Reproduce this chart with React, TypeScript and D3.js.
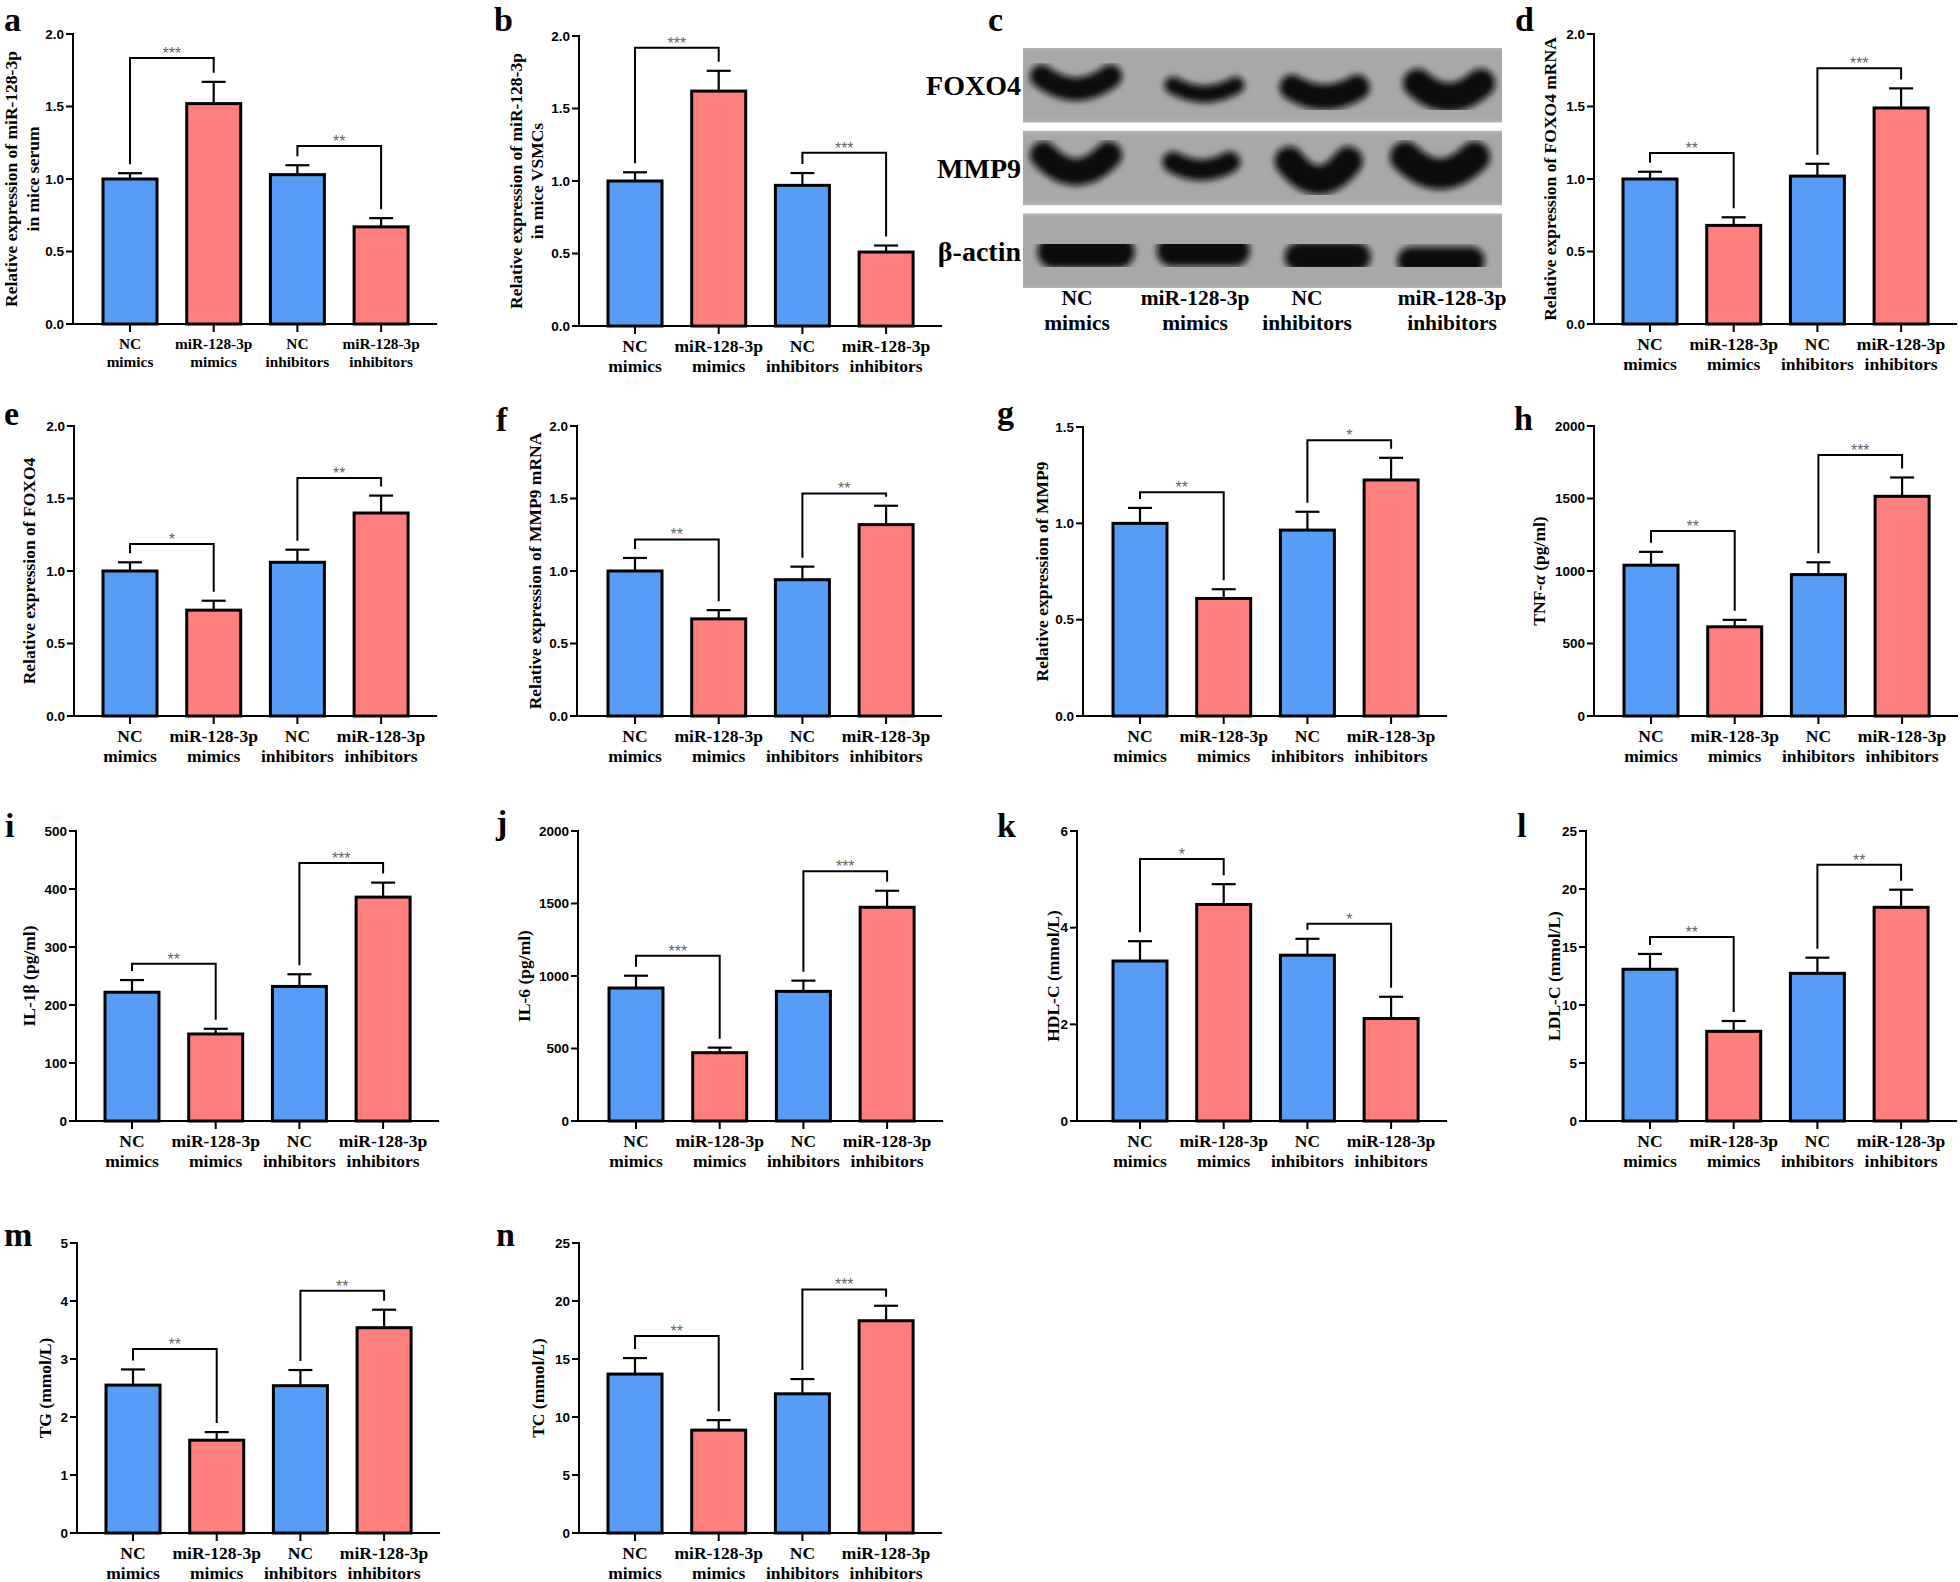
import React from "react";
import * as d3 from "d3";

// ---------- shared categories & styles ----------
const groupLines: string[][] = [
  ["NC", "mimics"],
  ["miR-128-3p", "mimics"],
  ["NC", "inhibitors"],
  ["miR-128-3p", "inhibitors"],
];
const barColors = ["#559DF7", "#FF7F7F", "#559DF7", "#FF7F7F"];

// ---------- data (mean, SEM) ----------
const meanA = [1.0, 1.52, 1.03, 0.67];
const semA = [0.04, 0.15, 0.065, 0.06];
const meanB = [1.0, 1.62, 0.97, 0.51];
const semB = [0.06, 0.14, 0.085, 0.045];
const meanD = [1.0, 0.68, 1.02, 1.49];
const semD = [0.05, 0.056, 0.085, 0.135];
const meanE = [1.0, 0.73, 1.06, 1.4];
const semE = [0.06, 0.065, 0.087, 0.12];
const meanF = [1.0, 0.67, 0.94, 1.32];
const semF = [0.09, 0.06, 0.09, 0.13];
const meanG = [1.0, 0.61, 0.965, 1.225];
const semG = [0.08, 0.048, 0.095, 0.115];
const meanH = [1040, 615, 975, 1515];
const semH = [92, 48, 85, 130];
const meanI = [222, 150, 232, 386];
const semI = [21, 9, 21, 25];
const meanJ = [917, 471, 894, 1474];
const semJ = [85, 35, 74, 114];
const meanK = [3.31, 4.48, 3.43, 2.12];
const semK = [0.41, 0.42, 0.34, 0.45];
const meanL = [13.08, 7.73, 12.73, 18.42];
const semL = [1.32, 0.89, 1.35, 1.52];
const meanM = [2.55, 1.6, 2.54, 3.54];
const semM = [0.27, 0.14, 0.27, 0.31];
const meanN = [13.7, 8.87, 12.0, 18.3];
const semN = [1.38, 0.86, 1.27, 1.29];

// ---------- significance brackets: [i, j, level, label] ----------
type Sig = [number, number, number, string];
const sigA: Sig[] = [[0, 1, 1.834, "***"], [2, 3, 1.228, "**"]];
const sigB: Sig[] = [[0, 1, 1.919, "***"], [2, 3, 1.195, "***"]];
const sigD: Sig[] = [[0, 1, 1.18, "**"], [2, 3, 1.763, "***"]];
const sigE: Sig[] = [[0, 1, 1.186, "*"], [2, 3, 1.641, "**"]];
const sigF: Sig[] = [[0, 1, 1.218, "**"], [2, 3, 1.535, "**"]];
const sigG: Sig[] = [[0, 1, 1.161, "**"], [2, 3, 1.431, "*"]];
const sigH: Sig[] = [[0, 1, 1276, "**"], [2, 3, 1800, "***"]];
const sigI: Sig[] = [[0, 1, 271, "**"], [2, 3, 445, "***"]];
const sigJ: Sig[] = [[0, 1, 1140, "***"], [2, 3, 1723, "***"]];
const sigK: Sig[] = [[0, 1, 5.42, "*"], [2, 3, 4.08, "*"]];
const sigL: Sig[] = [[0, 1, 15.86, "**"], [2, 3, 22.1, "**"]];
const sigM: Sig[] = [[0, 1, 3.172, "**"], [2, 3, 4.178, "**"]];
const sigN: Sig[] = [[0, 1, 16.98, "**"], [2, 3, 21.0, "***"]];

// ---------- tick values ----------
const ticks2 = [0, 0.5, 1.0, 1.5, 2.0];
const ticks15 = [0, 0.5, 1.0, 1.5];
const ticks2000 = [0, 500, 1000, 1500, 2000];
const ticks500 = [0, 100, 200, 300, 400, 500];
const ticks6 = [0, 2, 4, 6];
const ticks25 = [0, 5, 10, 15, 20, 25];
const ticks5 = [0, 1, 2, 3, 4, 5];

// ---------- western blot ----------
const blotProteins = ["FOXO4", "MMP9", "β-actin"];
const blotBandWidth = [
  [92, 80, 90, 92],
  [92, 78, 88, 100],
  [97, 93, 86, 87],
];
const blotBandThick = [
  [23, 17, 25, 29],
  [27, 21, 29, 31],
  [33, 31, 29, 28],
];
const blotBandSag = [
  [13, 9, 10, 14],
  [17, 8, 19, 17],
  [0, 0, 0, 0],
];
const blotBandShift = [
  [-2, 4, 2, 4],
  [-2, 1, -4, -5],
  [8, 3, 5, -4],
];
const blotBandDy = [
  [-9, 0, 2, -2],
  [-13, -6, -7, -11],
  [1, 0, 6, 10],
];

const SERIF = "'Liberation Serif', 'Times New Roman', serif";
const SANS = "'Liberation Sans', Arial, sans-serif";

type PanelSpec = {
  letter: string;
  mean: number[];
  sem: number[];
  sig: Sig[];
  ticks: number[];
  fmt: string;
  title: React.ReactNode[];
  ax: number;
  top: number;
  bot: number;
  c0: number;
  titleOff: number[];
  letterX: number;
  letterY: number;
  labelSize: number;
  labelDy: number[];
};

const STEP = 83.7;

function Panel({ p }: { p: PanelSpec }) {
  const y = d3.scaleLinear().domain([0, p.ticks[p.ticks.length - 1]]).range([p.bot, p.top]);
  const x = d3
    .scalePoint<number>()
    .domain([0, 1, 2, 3])
    .range([p.c0, p.c0 + 3 * STEP]);
  const fmt = d3.format(p.fmt);
  const bw = 54;
  const cap = 12;
  const xEnd = (x(3) as number) + 56;
  const midY = (p.top + p.bot) / 2;
  return (
    <g>
      <text x={p.letterX} y={p.letterY} fontFamily={SERIF} fontWeight="bold" fontSize={34}>
        {p.letter}
      </text>
      {/* y axis title */}
      {p.title.map((t, k) => (
        <text
          key={k}
          transform={`translate(${p.ax + p.titleOff[k]},${midY}) rotate(-90)`}
          textAnchor="middle"
          dominantBaseline="central"
          fontFamily={SERIF}
          fontWeight="bold"
          fontSize={17.5}
        >
          {t}
        </text>
      ))}
      {/* bars */}
      {p.mean.map((m, i) => (
        <rect
          key={"b" + i}
          x={(x(i) as number) - bw / 2}
          y={y(m)}
          width={bw}
          height={p.bot - y(m)}
          fill={barColors[i]}
          stroke="#000"
          strokeWidth={3}
        />
      ))}
      {/* error bars */}
      {p.mean.map((m, i) => {
        const cx = x(i) as number;
        const yt = y(m + p.sem[i]);
        return (
          <g key={"e" + i} stroke="#000" strokeWidth={2.2}>
            <line x1={cx} x2={cx} y1={y(m) - 1} y2={yt} />
            <line x1={cx - cap} x2={cx + cap} y1={yt} y2={yt} />
          </g>
        );
      })}
      {/* axes */}
      <line x1={p.ax} x2={p.ax} y1={p.top - 1} y2={p.bot} stroke="#000" strokeWidth={2} />
      <line x1={p.ax - 7} x2={xEnd} y1={p.bot} y2={p.bot} stroke="#000" strokeWidth={2} />
      {p.ticks.map((t) => (
        <g key={"t" + t}>
          <line x1={p.ax - 7} x2={p.ax} y1={y(t)} y2={y(t)} stroke="#000" strokeWidth={2} />
          <text
            x={p.ax - 9}
            y={y(t)}
            textAnchor="end"
            dominantBaseline="central"
            fontFamily={SANS}
            fontWeight="bold"
            fontSize={13.5}
          >
            {fmt(t)}
          </text>
        </g>
      ))}
      {groupLines.map((lines, i) => {
        const cx = x(i) as number;
        return (
          <g key={"x" + i}>
            <line x1={cx} x2={cx} y1={p.bot} y2={p.bot + 8} stroke="#000" strokeWidth={2} />
            {lines.map((s, k) => (
              <text
                key={k}
                x={cx}
                y={p.bot + p.labelDy[k]}
                textAnchor="middle"
                fontFamily={SERIF}
                fontWeight="bold"
                fontSize={p.labelSize}
              >
                {s}
              </text>
            ))}
          </g>
        );
      })}
      {/* significance */}
      {p.sig.map(([i, j, lvl, lab], k) => {
        const x1 = x(i) as number;
        const x2 = x(j) as number;
        const yb = y(lvl);
        const y1 = y(p.mean[i] + p.sem[i]) - 9;
        const y2 = y(p.mean[j] + p.sem[j]) - 9;
        return (
          <g key={"s" + k}>
            <path
              d={`M${x1},${y1}V${yb}H${x2}V${y2}`}
              fill="none"
              stroke="#000"
              strokeWidth={2}
            />
            <text
              x={(x1 + x2) / 2}
              y={yb + 1}
              textAnchor="middle"
              fontFamily={SANS}
              fontSize={16}
              fill="#666"
            >
              {lab}
            </text>
          </g>
        );
      })}
    </g>
  );
}

const L1 = [26, 46];
const panels: PanelSpec[] = [
  { letter: "a", mean: meanA, sem: semA, sig: sigA, ticks: ticks2, fmt: ".1f",
    title: ["Relative expression of miR-128-3p", "in mice serum"],
    ax: 73, top: 34, bot: 324, c0: 130, titleOff: [-62, -40], letterX: 4, letterY: 31, labelSize: 15.3, labelDy: [25, 43] },
  { letter: "b", mean: meanB, sem: semB, sig: sigB, ticks: ticks2, fmt: ".1f",
    title: ["Relative expression of miR-128-3p", "in mice VSMCs"],
    ax: 579, top: 36, bot: 326, c0: 635, titleOff: [-63, -42], letterX: 494, letterY: 31, labelSize: 17.5, labelDy: L1 },
  { letter: "d", mean: meanD, sem: semD, sig: sigD, ticks: ticks2, fmt: ".1f",
    title: ["Relative expression of FOXO4 mRNA"],
    ax: 1594, top: 34, bot: 324, c0: 1650, titleOff: [-44], letterX: 1515, letterY: 31, labelSize: 17.5, labelDy: L1 },
  { letter: "e", mean: meanE, sem: semE, sig: sigE, ticks: ticks2, fmt: ".1f",
    title: ["Relative expression of FOXO4"],
    ax: 74, top: 426, bot: 716, c0: 130, titleOff: [-45], letterX: 4, letterY: 425, labelSize: 17.5, labelDy: L1 },
  { letter: "f", mean: meanF, sem: semF, sig: sigF, ticks: ticks2, fmt: ".1f",
    title: ["Relative expression of MMP9 mRNA"],
    ax: 577, top: 426, bot: 716, c0: 635, titleOff: [-42], letterX: 496, letterY: 431, labelSize: 17.5, labelDy: L1 },
  { letter: "g", mean: meanG, sem: semG, sig: sigG, ticks: ticks15, fmt: ".1f",
    title: ["Relative expression of MMP9"],
    ax: 1083, top: 427, bot: 716, c0: 1140, titleOff: [-41], letterX: 997, letterY: 424, labelSize: 17.5, labelDy: L1 },
  { letter: "h", mean: meanH, sem: semH, sig: sigH, ticks: ticks2000, fmt: "d",
    title: [<tspan key="t">TNF-<tspan fontStyle="italic">α</tspan> (pg/ml)</tspan>],
    ax: 1594, top: 426, bot: 716, c0: 1651, titleOff: [-55], letterX: 1514, letterY: 430, labelSize: 17.5, labelDy: L1 },
  { letter: "i", mean: meanI, sem: semI, sig: sigI, ticks: ticks500, fmt: "d",
    title: ["IL-1β (pg/ml)"],
    ax: 76, top: 831, bot: 1121, c0: 132, titleOff: [-47], letterX: 5, letterY: 837, labelSize: 17.5, labelDy: L1 },
  { letter: "j", mean: meanJ, sem: semJ, sig: sigJ, ticks: ticks2000, fmt: "d",
    title: ["IL-6 (pg/ml)"],
    ax: 578, top: 831, bot: 1121, c0: 636, titleOff: [-54], letterX: 496, letterY: 834, labelSize: 17.5, labelDy: L1 },
  { letter: "k", mean: meanK, sem: semK, sig: sigK, ticks: ticks6, fmt: "d",
    title: ["HDL-C (mmol/L)"],
    ax: 1077, top: 831, bot: 1121, c0: 1140, titleOff: [-24], letterX: 997, letterY: 837, labelSize: 17.5, labelDy: L1 },
  { letter: "l", mean: meanL, sem: semL, sig: sigL, ticks: ticks25, fmt: "d",
    title: ["LDL-C (mmol/L)"],
    ax: 1586, top: 831, bot: 1121, c0: 1650, titleOff: [-32], letterX: 1517, letterY: 837, labelSize: 17.5, labelDy: L1 },
  { letter: "m", mean: meanM, sem: semM, sig: sigM, ticks: ticks5, fmt: "d",
    title: ["TG (mmol/L)"],
    ax: 77, top: 1243, bot: 1533, c0: 133, titleOff: [-32], letterX: 4, letterY: 1246, labelSize: 17.5, labelDy: L1 },
  { letter: "n", mean: meanN, sem: semN, sig: sigN, ticks: ticks25, fmt: "d",
    title: ["TC (mmol/L)"],
    ax: 579, top: 1243, bot: 1533, c0: 635, titleOff: [-41], letterX: 496, letterY: 1246, labelSize: 17.5, labelDy: L1 },
];

function Blot() {
  const lane = d3.scalePoint<number>().domain([0, 1, 2, 3]).range([1078, 1445]);
  const rows = d3.scaleBand<number>().domain([0, 1, 2]).range([48, 288]).paddingInner(0.1);
  const laneLabelX = [1077, 1195, 1307, 1452];
  return (
    <g>
      <defs>
        <filter id="bandBlur" x="-30%" y="-60%" width="160%" height="220%">
          <feGaussianBlur stdDeviation={3} />
        </filter>
        <linearGradient id="blotBg" x1="0" x2="0" y1="0" y2="1">
          <stop offset="0" stopColor="#b4b4b4" />
          <stop offset="0.06" stopColor="#a8a8a8" />
          <stop offset="0.94" stopColor="#a8a8a8" />
          <stop offset="1" stopColor="#b4b4b4" />
        </linearGradient>
      </defs>
      <text x={988} y={31} fontFamily={SERIF} fontWeight="bold" fontSize={34}>c</text>
      {blotProteins.map((name, r) => {
        const y0 = rows(r) as number;
        const h = rows.bandwidth();
        const yc = y0 + h / 2;
        return (
          <g key={name}>
            <rect x={1023} y={y0} width={479} height={h} fill="url(#blotBg)" />
            <text
              x={1021}
              y={yc + 10}
              textAnchor="end"
              fontFamily={SERIF}
              fontWeight="bold"
              fontSize={28}
            >
              {name}
            </text>
            <g filter="url(#bandBlur)">
              {[0, 1, 2, 3].map((i) => {
                const cx = (lane(i) as number) + blotBandShift[r][i];
                const th = blotBandThick[r][i];
                const half = (blotBandWidth[r][i] - th) / 2;
                const ye = yc + blotBandDy[r][i];
                const sag = blotBandSag[r][i];
                return (
                  <path
                    key={i}
                    d={`M${cx - half},${ye} Q${cx},${ye + 2 * sag} ${cx + half},${ye}`}
                    fill="none"
                    stroke="#0a0a0a"
                    strokeWidth={th}
                    strokeLinecap="round"
                  />
                );
              })}
            </g>
          </g>
        );
      })}
      {groupLines.map((lines, i) => (
        <g key={i}>
          {lines.map((s, k) => (
            <text
              key={k}
              x={laneLabelX[i]}
              y={305 + k * 25}
              textAnchor="middle"
              fontFamily={SERIF}
              fontWeight="bold"
              fontSize={21.5}
            >
              {s}
            </text>
          ))}
        </g>
      ))}
    </g>
  );
}

export default function App() {
  return (
    <svg
      width={1960}
      height={1582}
      viewBox="0 0 1960 1582"
      style={{ position: "absolute", left: 0, top: 0, display: "block", background: "#fff" }}
    >
      <rect width={1960} height={1582} fill="#fff" />
      {panels.map((p) => (
        <Panel key={p.letter} p={p} />
      ))}
      <Blot />
    </svg>
  );
}
